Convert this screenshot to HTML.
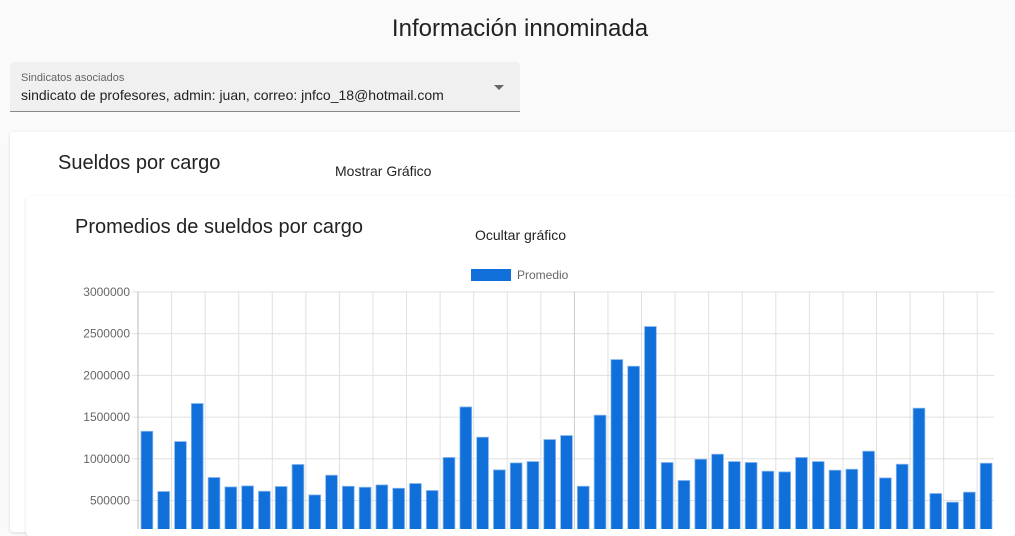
<!DOCTYPE html>
<html><head><meta charset="utf-8"><style>
body{margin:0;width:1015px;height:529px;overflow:hidden;background:#fafafa;font-family:"Liberation Sans",sans-serif;position:relative}
.abs{position:absolute;white-space:nowrap}
</style></head><body>
<div class="abs" style="left:0;width:1040px;text-align:center;top:15px;font-size:24px;color:#222">Información innominada</div>
<div class="abs" style="left:10px;top:62px;width:510px;height:49px;background:#f0f0f0;border-bottom:1px solid #888;border-radius:4px 4px 0 0">
 <div class="abs" style="left:11px;top:10px;font-size:11px;color:#666">Sindicatos asociados</div>
 <div class="abs" style="left:11px;top:25px;font-size:14px;color:#222">sindicato de profesores, admin: juan, correo: jnfco_18@hotmail.com</div>
 <div class="abs" style="left:484px;top:23px;width:0;height:0;border-left:5px solid transparent;border-right:5px solid transparent;border-top:5px solid #666"></div>
</div>
<div class="abs" style="left:10px;top:132px;width:1010px;height:400px;background:#fff;border-radius:4px;box-shadow:0 1px 3px rgba(0,0,0,.12)"></div>
<div class="abs" style="left:58px;top:152px;font-size:20px;color:#222">Sueldos por cargo</div>
<div class="abs" style="left:335px;top:163px;font-size:14px;color:#222">Mostrar Gráfico</div>
<div class="abs" style="left:26px;top:196px;width:990px;height:340px;background:#fff;border-radius:4px;box-shadow:0 1px 3px rgba(0,0,0,.12)"></div>
<div class="abs" style="left:75px;top:216px;font-size:20px;color:#222">Promedios de sueldos por cargo</div>
<div class="abs" style="left:475px;top:227px;font-size:14px;color:#222">Ocultar gráfico</div>
<svg class="abs" style="left:0;top:0" width="1015" height="529" id="chart"></svg>
<script>
const categories=Array.from({length:51},(_, i)=>'Cargo '+(i+1));
const promedio=[1330000,608000,1207000,1663000,776000,663000,675000,611000,668000,932000,567000,803000,671000,659000,687000,647000,704000,620000,1016000,1622000,1259000,867000,951000,967000,1231000,1279000,671000,1523000,2190000,2110000,2586000,956000,740000,995000,1055000,967000,956000,851000,843000,1016000,967000,863000,875000,1091000,771000,935000,1607000,584000,480000,600000,947000];
const yTicks=[500000,1000000,1500000,2000000,2500000,3000000];
const NS='http://www.w3.org/2000/svg';
const svg=document.getElementById('chart');
const x0=138,x1=994,yTop=292,yMax=3000000,pxPer=41.7/500000;
const y=v=>yTop+(yMax-v)*pxPer;
const bw=(x1-x0)/categories.length;
function mk(t,a){const e=document.createElementNS(NS,t);for(const k in a)e.setAttribute(k,a[k]);svg.appendChild(e);return e;}
yTicks.forEach(v=>{
 const g=mk('line',{x1:x0-6,x2:x1,y1:y(v),y2:y(v),stroke:'#e0e0e0'});
 
 
 const t=mk('text',{x:130,y:y(v)+4,'text-anchor':'end','font-size':12,fill:'#666','font-family':'Liberation Sans'});
 t.textContent=v;
 
 
});
for(let i=0;i<=categories.length;i+=2){
 const xx=x0+i*bw;
 const g=mk('line',{x1:xx,x2:xx,y1:yTop,y2:529,stroke:i==0?'#bbb':(i==26?'#ccc':'#e0e0e0')});
 
 
}
promedio.forEach((v,i)=>{
 const b=mk('rect',{x:x0+i*bw+3,y:y(v),width:bw-5,height:Math.max(0,545-y(v)),fill:'#106fd9',stroke:'#8ab8ee','stroke-width':0.8});
 
 
});
const lb=mk('rect',{x:471,y:269,width:40,height:12,fill:'#106fd9'});


const lt=mk('text',{x:517,y:279,'font-size':12,fill:'#666','font-family':'Liberation Sans'});
lt.textContent='Promedio';


</script>
</body></html>
